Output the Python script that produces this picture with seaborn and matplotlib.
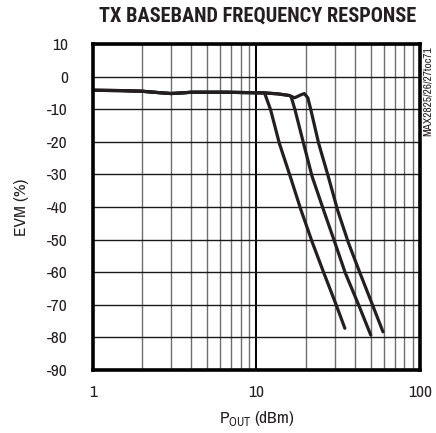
import matplotlib
matplotlib.use("Agg")
import matplotlib.pyplot as plt
import seaborn as sns
import pandas as pd
from matplotlib.ticker import FixedLocator, NullFormatter

# Shared low-power segment (all three traces overlap here)
shared_pout = [1.0, 1.5, 2.0, 2.5, 3.0, 3.5, 4.0, 5.0, 6.5, 8.5, 11.2]
shared_evm = [-4.2, -4.3, -4.5, -4.9, -5.2, -5.0, -4.8, -4.8, -4.8, -4.9, -5.0]

# Roll-off segments of each trace
trace_a_pout = [12.2, 13.8, 16.1, 18.7, 22.0, 25.8, 30.7, 34.7]
trace_a_evm = [-10.2, -20.5, -30.7, -40.9, -51.0, -60.2, -70.0, -77.2]

trace_b_pout = [13.5, 15.9, 16.3, 17.2, 19.4, 21.9, 25.7, 30.2, 34.9, 42.1, 50.0]
trace_b_evm = [-5.3, -5.8, -6.2, -10.2, -20.5, -30.7, -40.9, -51.0, -60.2, -70.0, -79.3]

trace_c_pout = [13.5, 15.9, 17.1, 18.7, 19.6, 20.6, 21.5, 24.0, 27.5, 31.3, 36.5, 42.9, 51.2, 59.4]
trace_c_evm = [-5.3, -5.8, -6.5, -5.6, -5.2, -6.5, -10.2, -20.5, -30.7, -40.9, -51.0, -60.2, -70.0, -78.3]

y_ticks = [10, 0, -10, -20, -30, -40, -50, -60, -70, -80, -90]
x_ticks = [1, 10, 100]
x_tick_labels = ["1", "10", "100"]

frames = []
for name, px, ev in [("A", trace_a_pout, trace_a_evm),
                     ("B", trace_b_pout, trace_b_evm),
                     ("C", trace_c_pout, trace_c_evm)]:
    frames.append(pd.DataFrame({"pout": shared_pout + px,
                                "evm": shared_evm + ev,
                                "trace": name}))
df = pd.concat(frames, ignore_index=True)

sns.set_style("white")
plt.rcParams["font.family"] = ["Archivo Narrow", "Liberation Sans", "DejaVu Sans"]
plt.rcParams["mathtext.fontset"] = "custom"
plt.rcParams["mathtext.rm"] = "Archivo Narrow"
plt.rcParams["axes.unicode_minus"] = False

fig = plt.figure(figsize=(4.36, 4.33), dpi=100)
ax = fig.add_axes([0.2133, 0.1455, 0.7500, 0.7529])

ink = "#231f20"
sns.lineplot(data=df, x="pout", y="evm", hue="trace", units="trace",
             estimator=None, sort=False, palette=[ink, ink, ink],
             linewidth=2.3, legend=False, ax=ax, zorder=5)

ax.set_xscale("log")
ax.set_xlim(1, 100)
ax.set_ylim(-90, 10)

# grid: minor decades grey, decades and y lines dark
minor = [m * 10 ** d for d in (0, 1) for m in range(2, 10)]
ax.xaxis.set_minor_locator(FixedLocator(minor))
ax.xaxis.set_minor_formatter(NullFormatter())
ax.xaxis.set_major_locator(FixedLocator(x_ticks))
ax.set_xticklabels(x_tick_labels)
ax.set_yticks(y_ticks)
ax.grid(which="minor", axis="x", color="#6e6e6e", linewidth=1.0)
ax.grid(which="major", axis="x", color="black", linewidth=1.4)
ax.grid(which="major", axis="y", color="#1a1a1a", linewidth=1.0)
ax.set_axisbelow(True)

for s in ax.spines.values():
    s.set_visible(True)
    s.set_color("black")
    s.set_linewidth(2.6)
    s.set_zorder(10)

ax.tick_params(axis="both", which="both", length=0, labelsize=12.5, colors="#231f20")
ax.tick_params(axis="y", pad=18)
ax.tick_params(axis="x", pad=11)

ax.set_ylabel("EVM (%)", fontsize=12.5, color="#231f20", labelpad=13)
ax.set_xlabel(r"P$_{\mathrm{OUT}}$ (dBm)", fontsize=12.5, color="#231f20", labelpad=6)

fig.text(0.59, 0.962, "TX BASEBAND FREQUENCY RESPONSE", ha="center", va="center",
         fontsize=14.7, fontweight=900, family=["Roboto Condensed", "DejaVu Sans"],
         color="#231f20")
fig.text(0.982, 0.892, "MAX2825/26/27toc71", rotation=90, ha="center", va="top",
         fontsize=8.2, color="#231f20")

fig.savefig("out.png", dpi=100)
